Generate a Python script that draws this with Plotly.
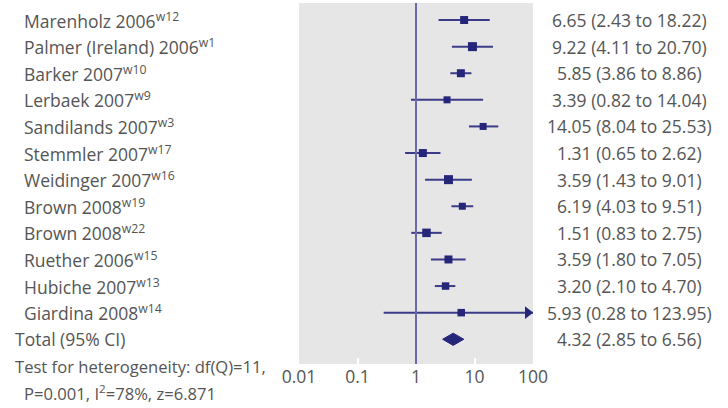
import plotly.graph_objects as go
import math

studies = ["Marenholz 2006", "Palmer (Ireland) 2006", "Barker 2007", "Lerbaek 2007",
           "Sandilands 2007", "Stemmler 2007", "Weidinger 2007", "Brown 2008",
           "Brown 2008", "Ruether 2006", "Hubiche 2007", "Giardina 2008"]
refs = ["w12", "w1", "w10", "w9", "w3", "w17", "w16", "w19", "w22", "w15", "w13", "w14"]
odds = [6.65, 9.22, 5.85, 3.39, 14.05, 1.31, 3.59, 6.19, 1.51, 3.59, 3.20, 5.93]
lower = [2.43, 4.11, 3.86, 0.82, 8.04, 0.65, 1.43, 4.03, 0.83, 1.80, 2.10, 0.28]
upper = [18.22, 20.70, 8.86, 14.04, 25.53, 2.62, 9.01, 9.51, 2.75, 7.05, 4.70, 123.95]
weights = [6, 7, 6, 5, 5, 6, 7, 5, 6.5, 6, 5.5, 5.5]
total_label = "Total (95% CI)"
total_or, total_lo, total_hi = 4.32, 2.85, 6.56
tick_vals = [0.01, 0.1, 1, 10, 100]
tick_text = ["0.01", "0.1", "1", "10", "100"]
het_lines = ["Test for heterogeneity: df(Q)=11,", "P=0.001, I<sup>2</sup>=78%, z=6.871"]

NAVY = "#25257a"
LINE = "#3b3b88"
TXT = "#555555"
FONT = "Open Sans"
FS = 17.5
XMIN, XMAX = 0.01, 100
W, H = 728, 408
L, R, T, B = 299, 533, 3, 364

fig = go.Figure()
n = len(studies)
for i in range(n):
    hi = min(upper[i], XMAX)
    fig.add_trace(go.Scatter(x=[lower[i], hi], y=[i, i], mode="lines",
                             line=dict(color=LINE, width=2), hoverinfo="skip", showlegend=False))
    if upper[i] > XMAX:
        fig.add_trace(go.Scatter(x=[10 ** (math.log10(XMAX) - 0.09)], y=[i], mode="markers",
                                 marker=dict(symbol="triangle-right", size=11, color=NAVY,
                                             opacity=1, line=dict(width=0)),
                                 hoverinfo="skip", showlegend=False))
fig.add_trace(go.Scatter(x=odds, y=list(range(n)), mode="markers",
                         marker=dict(symbol="square", size=[w + 2 for w in weights], color=NAVY,
                                     opacity=1, line=dict(width=0)),
                         hoverinfo="skip", showlegend=False))
ty = n
fig.add_trace(go.Scatter(x=[total_lo, total_or, total_hi, total_or, total_lo],
                         y=[ty, ty - 0.23, ty, ty + 0.23, ty], mode="lines", fill="toself",
                         fillcolor=NAVY, line=dict(color=NAVY, width=1),
                         hoverinfo="skip", showlegend=False))

fig.add_shape(type="line", x0=1, x1=1, xref="x", y0=0, y1=1, yref="y domain",
              line=dict(color="#6a6aaa", width=2))

def px_x(p):
    return (p - L) / (R - L)

def px_y(p):
    return (B - p) / (B - T)

ann = []
for i in range(n):
    ann.append(dict(x=px_x(22), y=i, yref="y", text=f"{studies[i]}<sup>{refs[i]}</sup>",
                    xanchor="left", fs=FS))
    ann.append(dict(x=px_x(629), y=i, yref="y",
                    text=f"{odds[i]:.2f} ({lower[i]:.2f} to {upper[i]:.2f})", xanchor="center",
                    fs=FS))
ann.append(dict(x=px_x(13), y=n, yref="y", text=total_label, xanchor="left", fs=FS))
ann.append(dict(x=px_x(629), y=n, yref="y",
                text=f"{total_or:.2f} ({total_lo:.2f} to {total_hi:.2f})", xanchor="center",
                fs=FS))
ann.append(dict(x=px_x(13), y=px_y(366), yref="paper", text=het_lines[0], xanchor="left",
                fs=16.6))
ann.append(dict(x=px_x(22), y=px_y(393), yref="paper", text=het_lines[1], xanchor="left",
                fs=16.6))

for a in ann:
    size = a.pop("fs")
    a.update(xref="paper", showarrow=False, yanchor="middle",
             font=dict(family=FONT, size=size, color=TXT))

fig.update_layout(
    width=W, height=H,
    margin=dict(l=L, r=W - R, t=T, b=H - B),
    plot_bgcolor="#e6e6e6", paper_bgcolor="white",
    annotations=ann,
    xaxis=dict(type="log", range=[math.log10(XMIN), math.log10(XMAX)], tickvals=tick_vals,
               ticktext=tick_text, showgrid=False, zeroline=False, ticks="inside",
               ticklen=6, tickwidth=2, tickcolor="white",
               tickfont=dict(family=FONT, size=FS, color=TXT), showline=False),
    yaxis=dict(range=[12.93, -0.64], showticklabels=False, showgrid=False, zeroline=False,
               ticks=""),
)
fig.write_html("out.html", config={"displayModeBar": False},
               post_script="document.body.style.margin='0';")
